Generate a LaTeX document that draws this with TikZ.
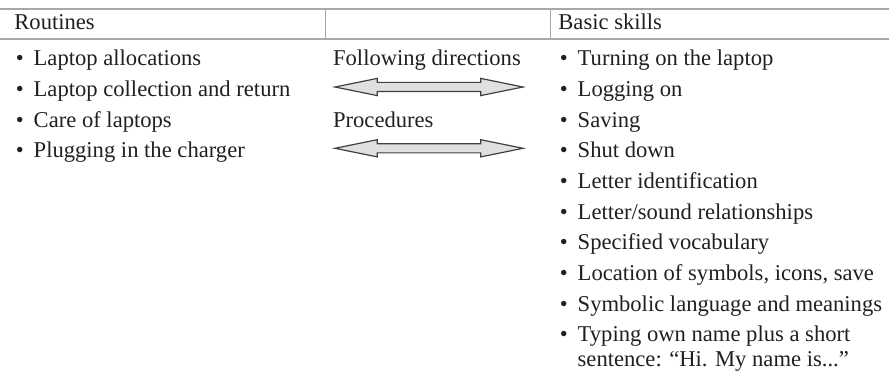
\documentclass[tikz,border=0pt]{standalone}
\usepackage{fontspec}
\setmainfont{Liberation Serif}
\usepackage{xcolor}
\usepackage{tikz}
\usetikzlibrary{shapes.arrows,positioning}

\definecolor{rulegray}{HTML}{A8A8A8}
\definecolor{txtgray}{HTML}{231F20}

\begin{document}
\begin{tikzpicture}[x=0.5pt,y=-0.5pt,
  font=\fontsize{11.3}{12}\selectfont,text=txtgray,
  hd/.style={inner sep=0pt,anchor=base west},
  item/.style={inner sep=0pt,anchor=base west},
  dblarr/.style={double arrow,draw=black!75,fill=black!12,line width=0.6pt,
    inner sep=2pt,minimum height=94pt,double arrow head extend=2pt,
    double arrow tip angle=23}
]
\useasboundingbox (0,0) rectangle (889,374);
% table rules
\draw[rulegray,line width=0.65pt] (0,9) -- (889,9) (0,39) -- (889,39);
\draw[rulegray,line width=0.5pt] (325,9) -- (325,39) (550.7,9) -- (550.7,39);
% headers
\node[hd] (routines) at (14,29.3) {Routines};
\node[hd] (skills) at (558,29.3) {Basic skills};
% routines
\foreach \t [count=\i] in {Laptop allocations,Laptop collection and return,
  Care of laptops,Plugging in the charger}
  \node[item] (rt\i) at (33.3,{65.7+30.67*(\i-1)}) {\llap{\textbullet\hspace{5pt}}\t};
% basic skills
\foreach \t [count=\i] in {Turning on the laptop,Logging on,Saving,Shut down,
  Letter identification,Letter/sound relationships,Specified vocabulary,
  {Location of symbols, icons, save},Symbolic language and meanings,
  Typing own name plus a short}
  \node[item] (bs\i) at (577.3,{65.7+30.67*(\i-1)}) {\llap{\textbullet\hspace{5pt}}\t};
\node[item] (bs10b) at (577.3,366.7) {sentence: “Hi. My name is...”};
% middle column
\node[hd] (follow) at (332.7,65.7) {Following directions};
\node[dblarr] (arrfollow) at (429,87) {};
\node[hd] (proc) at (332.7,127) {Procedures};
\node[dblarr] (arrproc) at (429,148.3) {};
\end{tikzpicture}
\end{document}
